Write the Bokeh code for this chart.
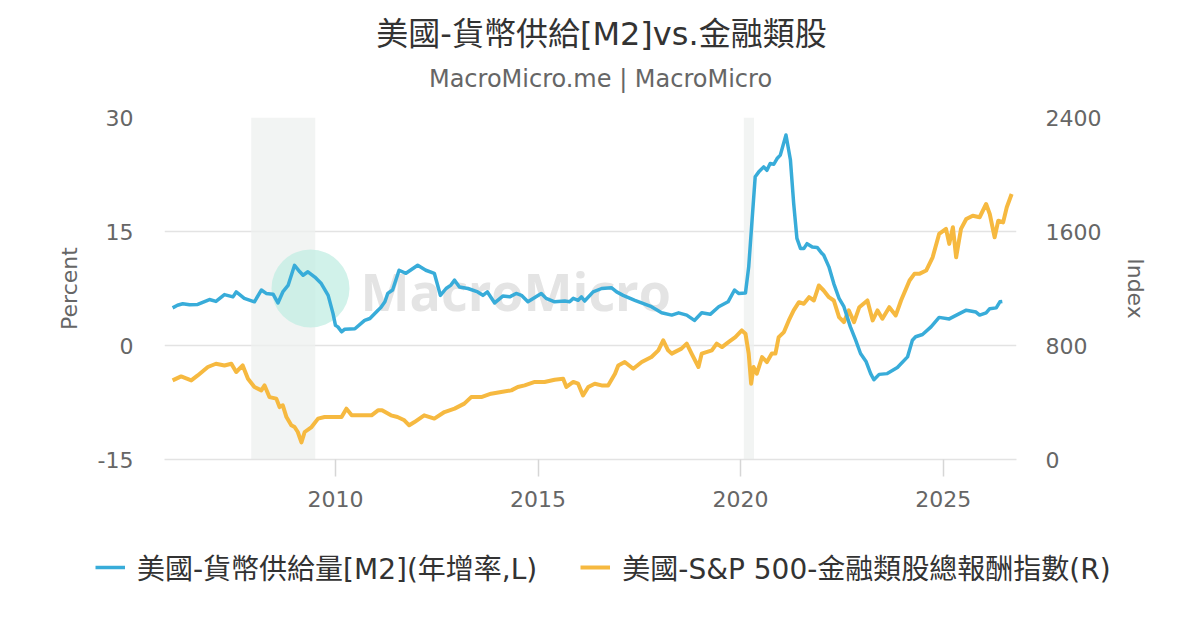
from bokeh.plotting import figure
from bokeh.models import (Range1d, LinearAxis, FixedTicker, BoxAnnotation, Label,
                          Legend, LegendItem, ColumnDataSource, PrintfTickFormatter)
from bokeh.embed import file_html
from bokeh.resources import INLINE

# ---------------- data ----------------
m2_year = [2005.98, 2006.1, 2006.23, 2006.4, 2006.6, 2006.89, 2007.05, 2007.26, 2007.47, 2007.55,
           2007.75, 2008.0, 2008.17, 2008.29, 2008.46, 2008.58, 2008.7, 2008.83, 2008.99, 2009.12,
           2009.2, 2009.32, 2009.49, 2009.65, 2009.82, 2009.94, 2010.0, 2010.06, 2010.15, 2010.23,
           2010.48, 2010.72, 2010.85, 2011.05, 2011.12, 2011.22, 2011.29, 2011.41, 2011.57, 2011.74,
           2012.03, 2012.23, 2012.44, 2012.59, 2012.73, 2012.85, 2012.94, 2013.06, 2013.27, 2013.51,
           2013.64, 2013.75, 2013.93, 2014.13, 2014.3, 2014.46, 2014.59, 2014.75, 2015.08, 2015.2,
           2015.41, 2015.66, 2015.78, 2015.87, 2015.99, 2016.07, 2016.15, 2016.36, 2016.57, 2016.81,
           2016.94, 2017.1, 2017.39, 2017.8, 2018.05, 2018.3, 2018.47, 2018.67, 2018.86, 2019.04,
           2019.25, 2019.46, 2019.69, 2019.85, 2019.95, 2020.12, 2020.2, 2020.36, 2020.45, 2020.57,
           2020.65, 2020.73, 2020.82, 2020.9, 2020.98, 2021.12, 2021.23, 2021.31, 2021.39, 2021.48,
           2021.56, 2021.64, 2021.77, 2021.89, 2022.01, 2022.05, 2022.18, 2022.3, 2022.43, 2022.55,
           2022.71, 2022.84, 2022.96, 2023.1, 2023.21, 2023.29, 2023.42, 2023.62, 2023.87, 2024.12,
           2024.24, 2024.32, 2024.49, 2024.7, 2024.9, 2025.15, 2025.4, 2025.57, 2025.81, 2025.9,
           2026.06, 2026.15, 2026.31, 2026.4, 2026.46]
m2_yoy = [4.95, 5.3, 5.5, 5.35, 5.4, 6.05, 5.8, 6.7, 6.4, 7.05,
          6.2, 5.75, 7.3, 6.85, 6.75, 5.6, 7.05, 7.9, 10.55, 9.7,
          9.25, 9.7, 9.0, 8.15, 6.6, 4.2, 2.65, 2.45, 1.8, 2.15,
          2.2, 3.3, 3.55, 4.65, 5.0, 5.75, 6.85, 7.3, 9.9, 9.5,
          10.55, 9.9, 9.5, 6.6, 7.5, 7.95, 8.6, 7.7, 7.5, 7.05,
          6.6, 7.05, 5.6, 6.5, 6.4, 6.85, 6.6, 5.75, 6.85, 6.2,
          5.75, 5.85, 5.75, 6.2, 5.95, 6.4, 5.85, 7.05, 7.5, 7.6,
          7.05, 6.6, 5.95, 5.1, 4.3, 4.0, 4.3, 4.0, 3.3, 4.3,
          4.1, 5.1, 5.75, 7.3, 6.85, 6.9, 10.35, 22.2, 22.85, 23.5,
          23.05, 23.95, 23.85, 24.6, 25.05, 27.7, 24.4, 18.7, 14.1, 12.75,
          12.75, 13.4, 12.95, 12.9, 12.1, 11.9, 10.35, 8.15, 6.2, 5.1,
          2.45, 0.7, -1.05, -2.15, -3.7, -4.5, -3.8, -3.7, -2.9, -1.5,
          0.7, 1.15, 1.45, 2.45, 3.7, 3.5, 4.2, 4.65, 4.4, 4.0,
          4.3, 4.85, 4.95, 5.75, 5.8]

fin_year = [2005.98, 2006.19, 2006.44, 2006.6, 2006.85, 2007.05, 2007.26, 2007.43, 2007.55, 2007.71,
            2007.84, 2008.0, 2008.17, 2008.25, 2008.37, 2008.54, 2008.62, 2008.7, 2008.79, 2008.91,
            2008.99, 2009.07, 2009.16, 2009.24, 2009.41, 2009.57, 2009.73, 2009.98, 2010.15, 2010.27,
            2010.4, 2010.64, 2010.89, 2011.05, 2011.15, 2011.37, 2011.53, 2011.7, 2011.82, 2011.95,
            2012.19, 2012.44, 2012.69, 2012.94, 2013.18, 2013.35, 2013.6, 2013.84, 2014.09, 2014.34,
            2014.5, 2014.67, 2014.92, 2015.16, 2015.41, 2015.62, 2015.7, 2015.87, 2015.99, 2016.11,
            2016.24, 2016.4, 2016.57, 2016.73, 2016.9, 2016.98, 2017.14, 2017.35, 2017.56, 2017.8,
            2017.97, 2018.09, 2018.21, 2018.3, 2018.54, 2018.67, 2018.79, 2018.96, 2019.04, 2019.29,
            2019.41, 2019.54, 2019.7, 2019.87, 2020.03, 2020.12, 2020.2, 2020.26, 2020.32, 2020.4,
            2020.53, 2020.65, 2020.77, 2020.86, 2020.94, 2021.07, 2021.19, 2021.31, 2021.44, 2021.56,
            2021.69, 2021.81, 2021.93, 2022.05, 2022.18, 2022.3, 2022.43, 2022.55, 2022.67, 2022.8,
            2022.93, 2023.13, 2023.26, 2023.38, 2023.5, 2023.67, 2023.83, 2023.96, 2024.17, 2024.29,
            2024.41, 2024.58, 2024.74, 2024.9, 2025.07, 2025.15, 2025.24, 2025.32, 2025.44, 2025.57,
            2025.73, 2025.9, 2026.06, 2026.15, 2026.27, 2026.36, 2026.48, 2026.57, 2026.69]
fin_index = [555, 583, 555, 590, 649, 672, 660, 672, 614, 660,
             567, 509, 485, 520, 438, 427, 368, 380, 298, 240,
             228, 193, 120, 193, 228, 287, 298, 298, 298, 357,
             310, 310, 310, 345, 345, 310, 298, 275, 240, 263,
             310, 287, 333, 357, 392, 438, 438, 462, 474, 485,
             509, 520, 544, 544, 560, 567, 509, 544, 532, 450,
             509, 532, 520, 520, 602, 660, 684, 637, 684, 719,
             766, 836, 766, 743, 778, 813, 743, 649, 743, 766,
             813, 789, 824, 859, 906, 883, 743, 532, 649, 602,
             719, 684, 743, 743, 859, 894, 976, 1046, 1104, 1093,
             1139, 1116, 1221, 1186, 1139, 1116, 999, 964, 1046, 964,
             1069, 1116, 976, 1046, 988, 1069, 1011, 1116, 1256, 1303,
             1303, 1326, 1419, 1583, 1618, 1513, 1630, 1419, 1618, 1688,
             1711, 1700, 1793, 1723, 1559, 1676, 1664, 1770, 1863]

recession_start = [2007.92, 2020.08]
recession_end = [2009.5, 2020.33]

x_ticks = [2010, 2015, 2020, 2025]
left_ticks = [-15, 0, 15, 30]
right_ticks = [0, 800, 1600, 2400]

title_text = "美國-貨幣供給[M2]vs.金融類股"
subtitle_text = "MacroMicro.me | MacroMicro"
m2_label = "美國-貨幣供給量[M2](年增率,L)"
fin_label = "美國-S&P 500-金融類股總報酬指數(R)"

# ---------------- styles ----------------
BLUE = "#38acd9"
GOLD = "#f6b940"
FONT = "DejaVu Sans"
CJK = "DejaVu Sans, Noto Sans CJK TC"
GRID = "#e3e3e3"
W = 1196


def blank(height):
    f = figure(width=W, height=height, output_backend="svg", toolbar_location=None,
               x_range=Range1d(0, W), y_range=Range1d(0, height),
               min_border=0, outline_line_color=None,
               x_axis_location=None, y_axis_location=None)
    f.xgrid.visible = False
    f.ygrid.visible = False
    return f


# ---------------- title block ----------------
top = blank(97)
top.add_layout(Label(x=601, y=64, x_units="screen", y_units="screen", text=title_text,
                     text_font=CJK, text_font_size="32px", text_color="#333333",
                     text_align="center", text_baseline="middle"))
top.add_layout(Label(x=600, y=19, x_units="screen", y_units="screen", text=subtitle_text,
                     text_font=FONT, text_font_size="24px", text_color="#666666",
                     text_align="center", text_baseline="middle"))

# ---------------- main chart ----------------
p = figure(frame_width=852, frame_height=342, output_backend="svg", toolbar_location=None,
           x_range=Range1d(2005.78, 2026.81), y_range=Range1d(-15, 30),
           min_border_left=164, min_border_right=W - 164 - 852, min_border_top=20,
           min_border_bottom=71, outline_line_color=None, title=None,
           y_axis_location=None, x_axis_location=None)
p.extra_y_ranges = {"idx": Range1d(0, 2400)}

xax = LinearAxis(ticker=FixedTicker(ticks=x_ticks), formatter=PrintfTickFormatter(format="%d"))
xax.axis_line_color = GRID
xax.axis_line_width = 1.5
xax.major_tick_line_color = "#d6d6d6"
xax.major_tick_line_width = 1.5
xax.major_tick_out = 17
xax.major_tick_in = 0
xax.minor_tick_line_color = None
xax.major_label_text_font = FONT
xax.major_label_text_font_size = "22px"
xax.major_label_text_color = "#666666"
xax.major_label_standoff = 14
p.add_layout(xax, "below")

yax = LinearAxis(ticker=FixedTicker(ticks=left_ticks), axis_label="Percent",
                 formatter=PrintfTickFormatter(format="%d"))
yax.axis_line_color = None
yax.major_tick_line_color = None
yax.minor_tick_line_color = None
yax.major_label_text_font = FONT
yax.major_label_text_font_size = "22px"
yax.major_label_text_color = "#666666"
yax.major_label_standoff = 25
yax.axis_label_text_font = FONT
yax.axis_label_text_font_size = "22px"
yax.axis_label_text_font_style = "normal"
yax.axis_label_text_color = "#666666"
yax.axis_label_standoff = 13
p.add_layout(yax, "left")

rax = LinearAxis(y_range_name="idx", ticker=FixedTicker(ticks=right_ticks), axis_label="Index",
                 formatter=PrintfTickFormatter(format="%d"))
rax.axis_line_color = None
rax.major_tick_line_color = None
rax.minor_tick_line_color = None
rax.major_label_text_font = FONT
rax.major_label_text_font_size = "22px"
rax.major_label_text_color = "#666666"
rax.major_label_standoff = 23
rax.axis_label_text_font = FONT
rax.axis_label_text_font_size = "22px"
rax.axis_label_text_font_style = "normal"
rax.axis_label_text_color = "#666666"
rax.axis_label_standoff = 19
p.add_layout(rax, "right")

p.xgrid.visible = False
p.ygrid.ticker = FixedTicker(ticks=left_ticks)
p.ygrid.grid_line_color = GRID
p.ygrid.grid_line_width = 1.5

for s, e in zip(recession_start, recession_end):
    p.add_layout(BoxAnnotation(left=s, right=e, fill_color="#eef0ef", fill_alpha=0.75,
                               line_color=None, level="underlay"))

# watermark
p.add_layout(BoxAnnotation(left=107, right=185, bottom=132, top=210,
                           left_units="screen", right_units="screen",
                           bottom_units="screen", top_units="screen",
                           border_radius=39, fill_color="#c2eee3", fill_alpha=0.75,
                           line_color=None, level="underlay"))
p.add_layout(Label(x=196, y=169, x_units="screen", y_units="screen", text="MacroMicro",
                   text_font="Open Sans", text_font_style="bold", text_font_size="52px",
                   text_color="#e4e4e4", text_baseline="middle", level="underlay"))

src_m2 = ColumnDataSource(dict(x=m2_year, y=m2_yoy))
src_fin = ColumnDataSource(dict(x=fin_year, y=fin_index))
p.line("x", "y", source=src_fin, y_range_name="idx", line_color=GOLD,
       line_width=4, line_join="round")
p.line("x", "y", source=src_m2, line_color=BLUE, line_width=3.5, line_join="round")

# ---------------- legend block ----------------
# legend keys: one-point lines (draw nothing themselves) so the key glyphs get styled
leg = blank(90)
k_m2 = leg.line(x=m2_year[:1], y=m2_yoy[:1], line_color=BLUE, line_width=3.5)
k_fin = leg.line(x=fin_year[:1], y=fin_index[:1], line_color=GOLD, line_width=4)
legend = Legend(items=[LegendItem(label=m2_label, renderers=[k_m2]),
                       LegendItem(label=fin_label, renderers=[k_fin])],
                orientation="horizontal", location=(95, 33))
legend.label_text_font = CJK
legend.label_text_font_size = "28px"
legend.label_text_color = "#333333"
legend.glyph_width = 30
legend.glyph_height = 34
legend.label_height = 34
legend.label_standoff = 12
legend.spacing = 43
legend.border_line_color = None
legend.background_fill_alpha = 0
legend.margin = 0
legend.padding = 0
leg.add_layout(legend, "center")

open("out.html", "w").write(file_html([top, p, leg], INLINE))
